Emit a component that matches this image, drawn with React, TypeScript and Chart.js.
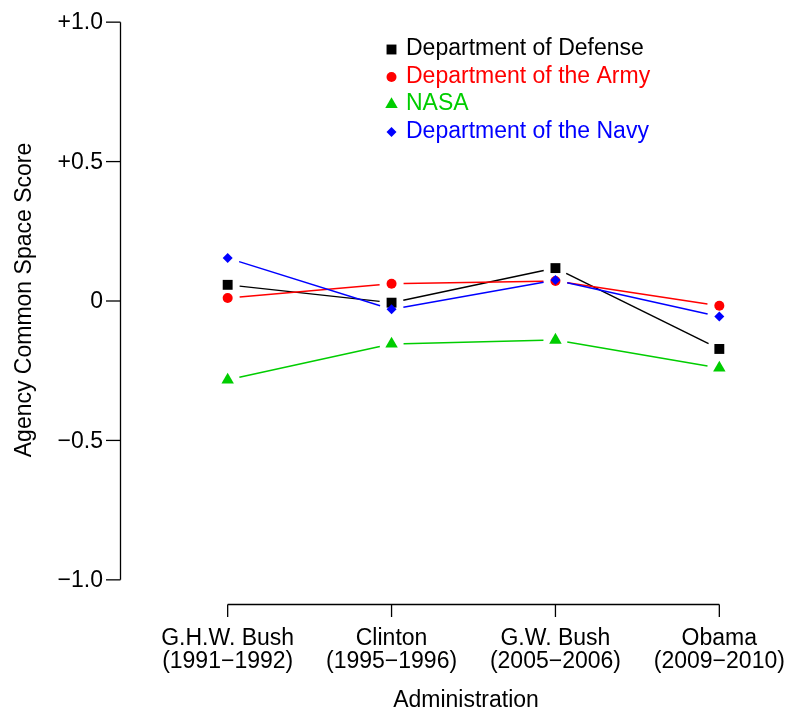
import React, { useEffect, useRef } from "react";
import { Chart, registerables } from "chart.js";

Chart.register(...registerables);

const categories = ["G.H.W. Bush", "Clinton", "G.W. Bush", "Obama"];
const categoryYears = ["(1991−1992)", "(1995−1996)", "(2005−2006)", "(2009−2010)"];

const defense = [0.058, -0.006, 0.118, -0.172];
const army = [0.011, 0.062, 0.072, -0.017];
const nasa = [-0.283, -0.154, -0.14, -0.24];
const navy = [0.154, -0.03, 0.075, -0.056];

const seriesNames = ["Department of Defense", "Department of the Army", "NASA", "Department of the Navy"];
const seriesColors = ["#000000", "#ff0000", "#00cd00", "#0000ff"];
const seriesShapes = ["rect", "circle", "triangle", "rectRot"];
const seriesRadius = [7, 5, 7.2, 5];

const yTicks = [1, 0.5, 0, -0.5, -1];
const yTickLabels = ["+1.0", "+0.5", "0", "−0.5", "−1.0"];

const xTitle = "Administration";
const yTitle = "Agency Common Space Score";

const FONT = '"Liberation Sans", Arial, Helvetica, sans-serif';
const FS = 23;

function drawMarker(ctx: CanvasRenderingContext2D, shape: string, x: number, y: number, r: number, color: string) {
  ctx.save();
  ctx.fillStyle = color;
  ctx.beginPath();
  if (shape === "rect") {
    const s = Math.SQRT1_2 * r;
    ctx.rect(x - s, y - s, 2 * s, 2 * s);
  } else if (shape === "circle") {
    ctx.arc(x, y, r, 0, Math.PI * 2);
  } else if (shape === "triangle") {
    let rad = 0;
    ctx.moveTo(x + Math.sin(rad) * r, y - Math.cos(rad) * r);
    rad += (2 * Math.PI) / 3;
    ctx.lineTo(x + Math.sin(rad) * r, y - Math.cos(rad) * r);
    rad += (2 * Math.PI) / 3;
    ctx.lineTo(x + Math.sin(rad) * r, y - Math.cos(rad) * r);
    ctx.closePath();
  } else {
    ctx.moveTo(x - r, y);
    ctx.lineTo(x, y - r);
    ctx.lineTo(x + r, y);
    ctx.lineTo(x, y + r);
    ctx.closePath();
  }
  ctx.fill();
  ctx.restore();
}

const rPlot = {
  id: "rplot",
  beforeDatasetsDraw(chart: any) {
    const ctx = chart.ctx as CanvasRenderingContext2D;
    const n = chart.data.datasets.length;
    for (let di = 0; di < n; di++) {
      const ds = chart.data.datasets[di];
      const pts = chart.getDatasetMeta(di).data;
      ctx.save();
      ctx.strokeStyle = ds.borderColor;
      ctx.lineWidth = 1.5;
      for (let i = 0; i < pts.length - 1; i++) {
        const a = pts[i];
        const b = pts[i + 1];
        const dx = b.x - a.x;
        const dy = b.y - a.y;
        const len = Math.hypot(dx, dy);
        const g = 12;
        if (len <= 2 * g) continue;
        const ux = dx / len;
        const uy = dy / len;
        ctx.beginPath();
        ctx.moveTo(a.x + ux * g, a.y + uy * g);
        ctx.lineTo(b.x - ux * g, b.y - uy * g);
        ctx.stroke();
      }
      ctx.restore();
    }
  },
  afterDraw(chart: any) {
    const ctx = chart.ctx as CanvasRenderingContext2D;
    const xs = chart.scales.x;
    const ys = chart.scales.y;
    ctx.save();
    ctx.strokeStyle = "#000";
    ctx.fillStyle = "#000";
    ctx.lineWidth = 1.3;
    ctx.font = `${FS}px ${FONT}`;

    // Y axis
    const axX = 120.5;
    const yTop = ys.getPixelForValue(yTicks[0]);
    const yBot = ys.getPixelForValue(yTicks[yTicks.length - 1]);
    ctx.beginPath();
    ctx.moveTo(axX, yTop);
    ctx.lineTo(axX, yBot);
    ctx.stroke();
    ctx.textAlign = "right";
    ctx.textBaseline = "middle";
    yTicks.forEach((t, i) => {
      const py = ys.getPixelForValue(t);
      ctx.beginPath();
      ctx.moveTo(106, py);
      ctx.lineTo(axX, py);
      ctx.stroke();
      ctx.fillText(yTickLabels[i], 103, py + 1);
    });

    // X axis
    const axY = 604.5;
    const xL = xs.getPixelForValue(0);
    const xR = xs.getPixelForValue(categories.length - 1);
    ctx.beginPath();
    ctx.moveTo(xL, axY);
    ctx.lineTo(xR, axY);
    ctx.stroke();
    ctx.textAlign = "center";
    ctx.textBaseline = "alphabetic";
    categories.forEach((c, i) => {
      const px = xs.getPixelForValue(i);
      ctx.beginPath();
      ctx.moveTo(px, axY);
      ctx.lineTo(px, 617);
      ctx.stroke();
      ctx.fillText(c, px, 645);
      ctx.fillText(categoryYears[i], px, 668);
    });

    // Titles
    ctx.fillText(xTitle, 466, 707);
    ctx.save();
    ctx.translate(30.5, 300);
    ctx.rotate(-Math.PI / 2);
    ctx.textAlign = "center";
    ctx.fillText(yTitle, 0, 0);
    ctx.restore();

    // Legend
    ctx.textAlign = "left";
    seriesNames.forEach((name, i) => {
      const base = 55 + 27.5 * i;
      drawMarker(ctx, seriesShapes[i], 391.5, base - 5.5, seriesRadius[i], seriesColors[i]);
      ctx.fillStyle = seriesColors[i];
      ctx.fillText(name, 406, base);
    });
    ctx.restore();
  },
};

export default function App() {
  const ref = useRef<HTMLCanvasElement | null>(null);
  useEffect(() => {
    if (!ref.current) return;
    const all = [defense, army, nasa, navy];
    const chart = new Chart(ref.current, {
      type: "scatter",
      data: {
        datasets: all.map((vals, si) => ({
          label: seriesNames[si],
          data: vals.map((v, i) => ({ x: i, y: v })),
          showLine: false,
          borderColor: seriesColors[si],
          backgroundColor: seriesColors[si],
          pointBackgroundColor: seriesColors[si],
          pointBorderWidth: 0,
          pointStyle: seriesShapes[si] as any,
          pointRadius: seriesRadius[si],
          pointHoverRadius: seriesRadius[si],
          order: all.length - si,
        })),
      },
      options: {
        responsive: false,
        animation: false,
        devicePixelRatio: 1,
        events: [],
        layout: { padding: { left: 208, right: 52, top: 11, bottom: 122 } },
        plugins: { legend: { display: false }, tooltip: { enabled: false } },
        scales: {
          x: { type: "linear", min: -0.12, max: categories.length - 1 + 0.12, display: false },
          y: { type: "linear", min: -1.04, max: 1.04, display: false },
        },
      },
      plugins: [rPlot],
    });
    return () => chart.destroy();
  }, []);
  return (
    <div style={{ position: "absolute", left: 0, top: 0, width: 791, height: 713, background: "#fff" }}>
      <canvas ref={ref} width={791} height={713} style={{ width: 791, height: 713, display: "block" }} />
    </div>
  );
}
